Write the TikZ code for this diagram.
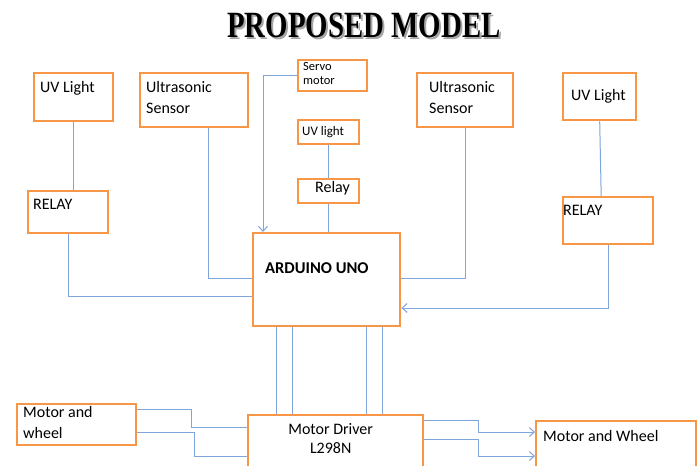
\documentclass[tikz,border=0pt]{standalone}
\usepackage{fontspec}
\setmainfont{Carlito}
\newfontfamily\titlefont{Liberation Serif}
\usetikzlibrary{arrows.meta, positioning}
\definecolor{boxorange}{HTML}{F79646}
\definecolor{wireblue}{HTML}{7EA6DA}

\begin{document}
\begin{tikzpicture}[x=1pt,y=-1pt,
        box/.style 2 args={draw=boxorange,line width=2.4pt,anchor=north west,
            minimum width=#1pt,minimum height=#2pt,inner sep=0pt},
        lbl/.style={inner sep=0pt,align=left,font=\fontsize{16}{21}\selectfont},
        small lbl/.style={lbl,font=\fontsize{12.5}{14}\selectfont},
        heading/.style={font=\titlefont\bfseries\fontsize{37}{40}\selectfont,xscale=0.78},
        wire/.style={draw=wireblue,line width=1pt},
        arr/.style={wire,-{Straight Barb[length=5pt,width=9pt]}}]
        \path[use as bounding box,fill=white] (0,0) rectangle (697,466);

        % title
        \node[heading,text=black!35] (titleshadow) at (366,27) {PROPOSED MODEL};
        \node[heading] (title) at (364,25) {PROPOSED MODEL};

        % blocks
        \node[box={79}{48}] (uvl) at (33,72) {};
        \node[box={108}{54}] (us1) at (139,72) {};
        \node[box={69}{31}] (servo) at (297,59) {};
        \node[box={61}{24}] (uvs) at (297,119) {};
        \node[box={61}{24}] (rels) at (297,178) {};
        \node[box={96}{54}] (us2) at (416,72) {};
        \node[box={73}{47}] (uvr) at (562,72) {};
        \node[box={80}{42}] (rel1) at (27,190) {};
        \node[box={90}{47}] (rel2) at (562,196) {};
        \node[box={147}{93}] (ard) at (252,232) {};
        \node[box={175}{70}] (drv) at (247,414) {};
        \node[box={119}{41}] (mwl) at (16,403) {};
        \node[box={160}{70}] (mwr) at (535,420) {};

        % labels
        \node[lbl,below right=9pt and 7pt of uvl.north west] (uvltxt) {UV Light};
        \node[lbl,below right=9pt and 7pt of us1.north west] (us1txt) {Ultrasonic\\Sensor};
        \node[small lbl,below right=3pt and 6pt of servo.north west] (servotxt) {Servo\\motor};
        \node[small lbl,font=\fontsize{13}{14}\selectfont,
            below right=7pt and 5pt of uvs.north west] (uvstxt) {UV light};
        \node[lbl,below right=3pt and 18pt of rels.north west] (relstxt) {Relay};
        \node[lbl,below right=9pt and 13pt of us2.north west] (us2txt) {Ultrasonic\\Sensor};
        \node[lbl,below right=17pt and 9pt of uvr.north west] (uvrtxt) {UV Light};
        \node[lbl,below right=9pt and 6pt of rel1.north west] (rel1txt) {RELAY};
        \node[lbl,below right=9pt and 1pt of rel2.north west] (rel2txt) {RELAY};
        \node[lbl,font=\bfseries\fontsize{16.5}{18}\selectfont,
            below right=30pt and 13pt of ard.north west] (ardtxt) {ARDUINO UNO};
        \node[lbl,align=center,below=9pt of drv.north,xshift=-5pt,
            font=\fontsize{16}{19.5}\selectfont] (drvtxt) {Motor Driver\\L298N};
        \node[lbl,below right=3pt and 7pt of mwl.north west] (mwltxt) {Motor and\\wheel};
        \node[lbl,below right=10pt and 8pt of mwr.north west] (mwrtxt) {Motor and Wheel};

        % connections
        \draw[wire] (uvl.south) -- (uvl.south |- rel1.north);
        \draw[wire] (rel1.south) |- (ard.west |- 0,296);
        \draw[wire] ([xshift=14pt]us1.south) |- (ard.west |- 0,278);
        \draw[arr] (servo.west) -| ([xshift=11pt]ard.north west);
        \draw[wire] (uvs.south) -- (rels.north);
        \draw[wire] (rels.south) -- (rels.south |- ard.north);
        \draw[wire] (us2.south) |- (ard.east |- 0,278);
        \draw[wire] (uvr.south) -- ([xshift=1.5pt]uvr.south |- rel2.north);
        \draw[arr] (rel2.south) |- (ard.east |- 0,308);
        \foreach \dx in {24,40,114,130} {
        \draw[wire] ([xshift=\dx pt]ard.south west) -- ([xshift=\dx pt]ard.south west |- drv.north);}
        \draw[wire] ([yshift=-6pt]mwl.north east) -| (191,427) -- (drv.west |- 0,427);
        \draw[wire] ([yshift=-29pt]mwl.north east) -| (194,456) -- (drv.west |- 0,456);
        \draw[arr] ([yshift=-6pt]drv.north east) -| (478,432) -- (mwr.west |- 0,432);
        \draw[arr] ([yshift=-25pt]drv.north east) -| (478,456) -- (mwr.west |- 0,456);
\end{tikzpicture}
\end{document}
